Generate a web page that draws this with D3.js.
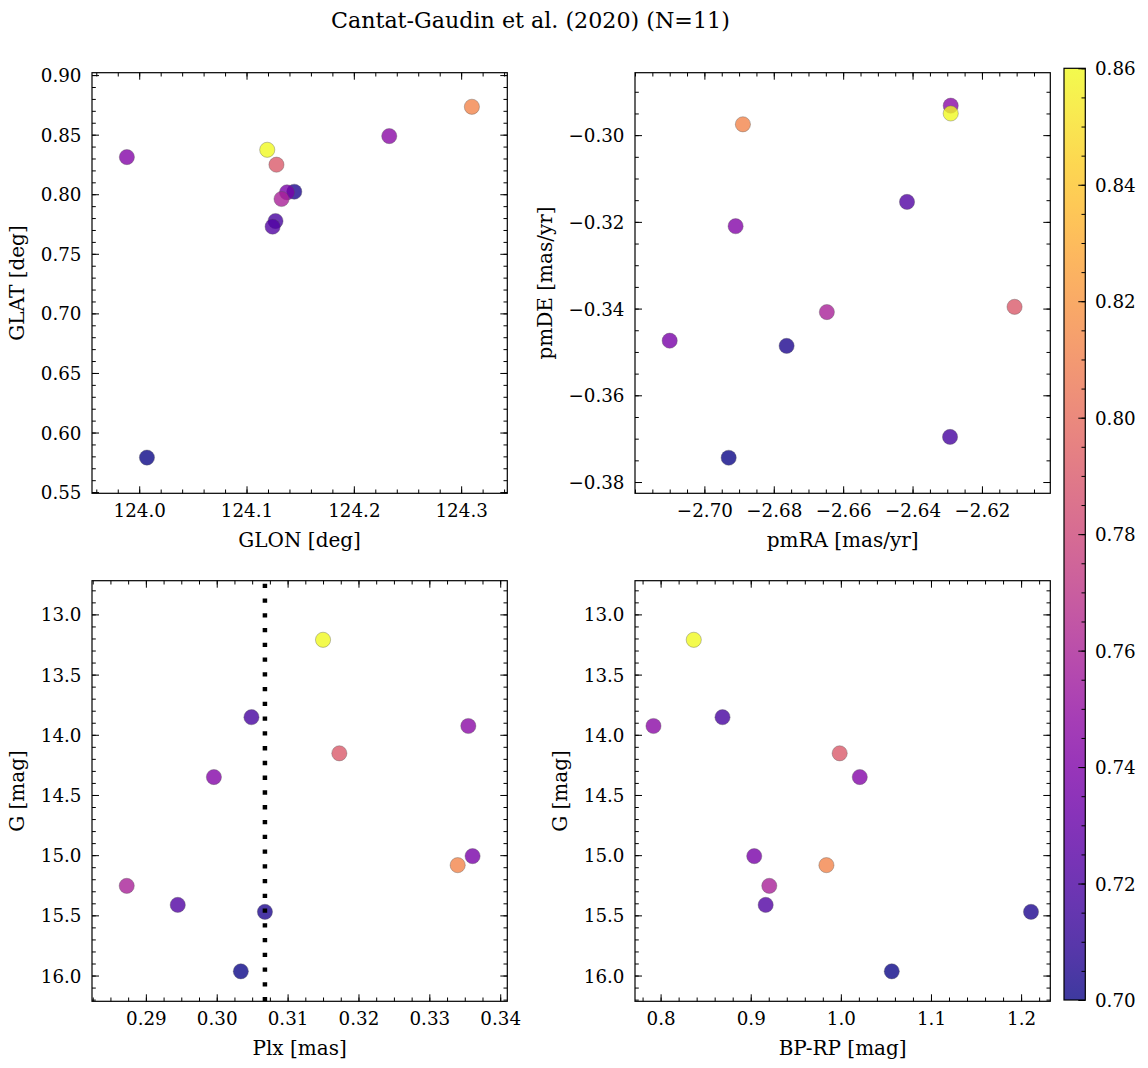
<!DOCTYPE html>
<html>
<head>
<meta charset="utf-8">
<script src="https://cdnjs.cloudflare.com/ajax/libs/d3/7.8.5/d3.min.js"></script>
<style>
  body { margin: 0; background: #fff; }
  svg text { font-family: "DejaVu Serif", serif; fill: #000; }
</style>
</head>
<body>
<script>

    // 11 member stars, colour = membership probability
    var prob = [0.86, 0.812, 0.79, 0.759, 0.745, 0.742, 0.738, 0.718, 0.722, 0.704, 0.70];
    var glon = [124.1193, 124.310, 124.1279, 124.1326, 124.233, 123.9885, 124.1377, 124.127, 124.1243, 124.1445, 124.0072];
    var glat = [0.8373, 0.8734, 0.8248, 0.796, 0.8488, 0.8312, 0.8016, 0.7775, 0.7728, 0.8021, 0.579];
    var pmra = [-2.629, -2.6889, -2.6106, -2.6647, -2.629, -2.691, -2.710, -2.6292, -2.6416, -2.6763, -2.693];
    var pmde = [-0.295, -0.2975, -0.3396, -0.3408, -0.2932, -0.321, -0.3474, -0.3696, -0.3154, -0.3486, -0.3744];
    var plx = [0.315, 0.334, 0.3173, 0.2873, 0.3355, 0.2996, 0.3361, 0.3049, 0.2945, 0.3068, 0.3034];
    var gmag = [13.211, 15.083, 14.154, 15.255, 13.927, 14.351, 15.008, 13.854, 15.413, 15.471, 15.965];
    var bprp = [0.8368, 0.984, 0.9987, 0.9206, 0.7921, 1.021, 0.9039, 0.8687, 0.9166, 1.211, 1.0565];
    var plxLine = 0.3068;

    // tick labels
    var ticksGlon = [124.0, 124.1, 124.2, 124.3];
    var ticksGlat = [0.55, 0.60, 0.65, 0.70, 0.75, 0.80, 0.85, 0.90];
    var ticksPmra = [-2.70, -2.68, -2.66, -2.64, -2.62];
    var ticksPmde = [-0.38, -0.36, -0.34, -0.32, -0.30];
    var ticksPlx = [0.29, 0.30, 0.31, 0.32, 0.33, 0.34];
    var ticksG = [13.0, 13.5, 14.0, 14.5, 15.0, 15.5, 16.0];
    var ticksBprp = [0.8, 0.9, 1.0, 1.1, 1.2];
    var ticksProb = [0.70, 0.72, 0.74, 0.76, 0.78, 0.80, 0.82, 0.84, 0.86];

    var w = 1148, h = 1068;
    var pw = 415.3, ph = 420.6;
    var tickFs = 18.3, labelFs = 20;

    var svg = d3.select('body').append('svg')
        .attr('width', w)
        .attr('height', h);

    var color = d3.scaleSequential(d3.interpolatePlasma).domain([0.70, 0.86]);
    var order = d3.range(prob.length).sort((a, b) => prob[a] - prob[b]);

    var panels = [
        { xs: glon, ys: glat, left: 92, top: 72.7, xd: [123.956, 124.343], yd: [0.549, 0.902],
          xt: ticksGlon, yt: ticksGlat, xm: 0.02, ym: 0.01, xf: '.1f', yf: '.2f', xl: 'GLON [deg]', yl: 'GLAT [deg]' },
        { xs: pmra, ys: pmde, left: 635, top: 72.7, xd: [-2.72, -2.6003], yd: [-0.3826, -0.2856],
          xt: ticksPmra, yt: ticksPmde, xm: 0.005, ym: 0.005, xf: '.2f', yf: '.2f', xl: 'pmRA [mas/yr]', yl: 'pmDE [mas/yr]' },
        { xs: plx, ys: gmag, left: 92, top: 580.7, xd: [0.2824, 0.341], yd: [16.214, 12.72],
          xt: ticksPlx, yt: ticksG, xm: 0.0025, ym: 0.1, xf: '.2f', yf: '.1f', xl: 'Plx [mas]', yl: 'G [mag]', vline: plxLine },
        { xs: bprp, ys: gmag, left: 635, top: 580.7, xd: [0.7716, 1.2324], yd: [16.214, 12.72],
          xt: ticksBprp, yt: ticksG, xm: 0.02, ym: 0.1, xf: '.1f', yf: '.1f', xl: 'BP-RP [mag]', yl: 'G [mag]' }
    ];

    function minor(dom, step) {
        var lo = Math.min(dom[0], dom[1]), hi = Math.max(dom[0], dom[1]);
        var a = Math.ceil(lo / step - 1e-6), b = Math.floor(hi / step + 1e-6);
        return d3.range(a, b + 1).map((i) => i * step);
    }

    function styleAxis(sel) {
        sel.select('.domain').remove();
        sel.selectAll('line').attr('stroke', '#000').attr('stroke-width', 1);
        sel.attr('font-family', null).attr('font-size', null);
        sel.selectAll('text').attr('font-size', tickFs);
    }

    panels.forEach((p) => {
        var g = svg.append('g').attr('transform', 'translate(' + p.left + ',' + p.top + ')');
        var x = d3.scaleLinear().domain(p.xd).range([0, pw]);
        var y = d3.scaleLinear().domain(p.yd).range([ph, 0]);

        // minor ticks, all four sides
        g.append('g').attr('transform', 'translate(0,' + ph + ')')
            .call(d3.axisBottom(x).tickValues(minor(p.xd, p.xm)).tickFormat('').tickSizeInner(-3.8).tickSizeOuter(0)).call(styleAxis);
        g.append('g')
            .call(d3.axisTop(x).tickValues(minor(p.xd, p.xm)).tickFormat('').tickSizeInner(-3.8).tickSizeOuter(0)).call(styleAxis);
        g.append('g')
            .call(d3.axisLeft(y).tickValues(minor(p.yd, p.ym)).tickFormat('').tickSizeInner(-3.8).tickSizeOuter(0)).call(styleAxis);
        g.append('g').attr('transform', 'translate(' + pw + ',0)')
            .call(d3.axisRight(y).tickValues(minor(p.yd, p.ym)).tickFormat('').tickSizeInner(-3.8).tickSizeOuter(0)).call(styleAxis);

        // major ticks
        g.append('g').attr('transform', 'translate(0,' + ph + ')')
            .call(d3.axisBottom(x).tickValues(p.xt).tickFormat(d3.format(p.xf)).tickSizeInner(-7).tickSizeOuter(0).tickPadding(11))
            .call(styleAxis);
        g.append('g')
            .call(d3.axisTop(x).tickValues(p.xt).tickFormat('').tickSizeInner(-7).tickSizeOuter(0)).call(styleAxis);
        var yax = g.append('g')
            .call(d3.axisLeft(y).tickValues(p.yt).tickFormat(d3.format(p.yf)).tickSizeInner(-7).tickSizeOuter(0).tickPadding(10.5))
            .call(styleAxis);
        yax.selectAll('text').attr('dy', '0.36em');
        g.append('g').attr('transform', 'translate(' + pw + ',0)')
            .call(d3.axisRight(y).tickValues(p.yt).tickFormat('').tickSizeInner(-7).tickSizeOuter(0)).call(styleAxis);

        // stars, low probability first
        g.append('g').selectAll('circle')
            .data(order)
            .join('circle')
            .attr('cx', (i) => x(p.xs[i]))
            .attr('cy', (i) => y(p.ys[i]))
            .attr('r', 7.6)
            .attr('fill', (i) => color(prob[i]))
            .attr('fill-opacity', 0.8)
            .attr('stroke', '#555')
            .attr('stroke-opacity', 0.6)
            .attr('stroke-width', 0.6);

        if (p.vline !== undefined) {
            g.append('line')
                .attr('x1', x(p.vline)).attr('x2', x(p.vline))
                .attr('y1', ph).attr('y2', 0)
                .attr('stroke', '#000')
                .attr('stroke-width', 4.5)
                .attr('stroke-dasharray', '4.3 10.46');
        }

        g.append('rect')
            .attr('width', pw).attr('height', ph)
            .attr('fill', 'none')
            .attr('stroke', '#000')
            .attr('stroke-width', 1.2);

        // axis labels
        g.append('text')
            .attr('x', pw / 2).attr('y', ph + 54)
            .attr('text-anchor', 'middle')
            .attr('font-size', labelFs)
            .text(p.xl);
        var bb = yax.node().getBBox();
        g.append('text')
            .attr('transform', 'translate(' + (bb.x - 16.8) + ',' + (ph / 2) + ') rotate(-90)')
            .attr('text-anchor', 'middle')
            .attr('font-size', labelFs)
            .text(p.yl);
    });

    // colorbar
    var cbx = 1064, cby = 68.3, cbw = 21.3, cbh = 931.7;
    var defs = svg.append('defs');
    var grad = defs.append('linearGradient').attr('id', 'plasma')
        .attr('x1', 0).attr('y1', 1).attr('x2', 0).attr('y2', 0);
    d3.range(0, 1.0001, 0.05).forEach((t) => {
        grad.append('stop').attr('offset', t).attr('stop-color', d3.interpolatePlasma(t));
    });
    svg.append('rect')
        .attr('x', cbx).attr('y', cby).attr('width', cbw).attr('height', cbh)
        .attr('fill', 'url(#plasma)')
        .attr('fill-opacity', 0.8);
    var cs = d3.scaleLinear().domain([0.70, 0.86]).range([cby + cbh, cby]);
    svg.append('g').attr('transform', 'translate(' + (cbx + cbw) + ',0)')
        .call(d3.axisRight(cs).tickValues(minor([0.70, 0.86], 0.005)).tickFormat('').tickSizeInner(-3.8).tickSizeOuter(0))
        .call(styleAxis);
    var cax = svg.append('g').attr('transform', 'translate(' + (cbx + cbw) + ',0)')
        .call(d3.axisRight(cs).tickValues(ticksProb).tickFormat(d3.format('.2f')).tickSizeInner(-7).tickSizeOuter(0).tickPadding(9.7))
        .call(styleAxis);
    cax.selectAll('text').attr('dy', '0.36em');
    svg.append('rect')
        .attr('x', cbx).attr('y', cby).attr('width', cbw).attr('height', cbh)
        .attr('fill', 'none')
        .attr('stroke', '#000')
        .attr('stroke-width', 1.2);

    // title
    svg.append('text')
        .attr('x', 530.4).attr('y', 27.7)
        .attr('text-anchor', 'middle')
        .attr('font-size', 22.2)
        .text('Cantat-Gaudin et al. (2020) (N=11)');

</script>
</body>
</html>
